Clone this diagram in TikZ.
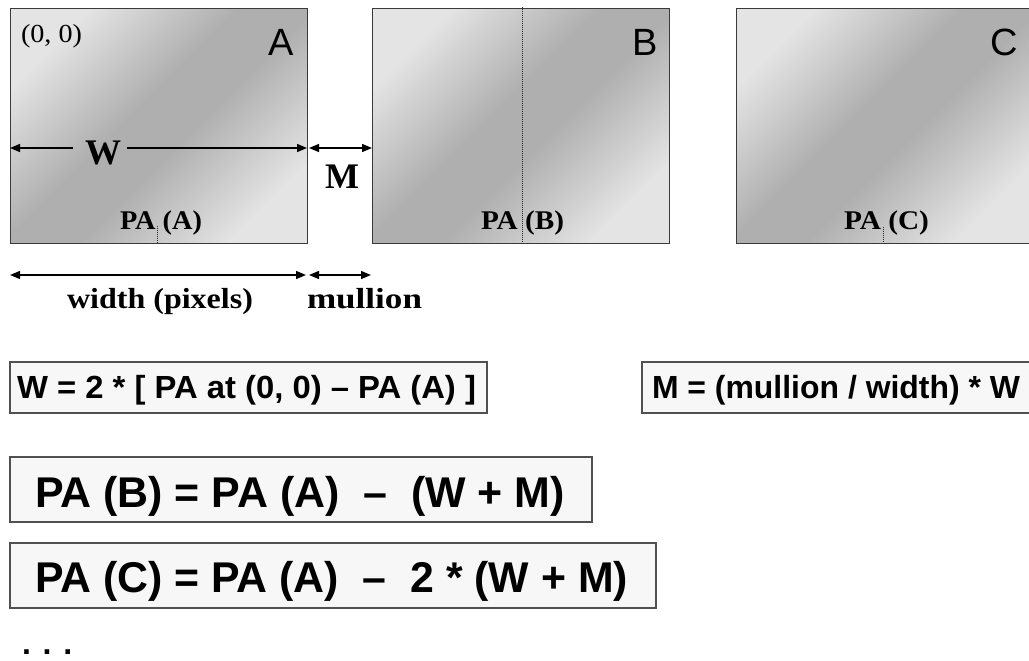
\documentclass[tikz,border=0pt]{standalone}
\usepackage{fontspec}
\usepackage{graphicx}
\setmainfont{Liberation Serif}
\newfontfamily\arialf{Liberation Sans}
\usetikzlibrary{arrows.meta}
\definecolor{panL}{HTML}{E4E4E4}
\definecolor{panD}{HTML}{AFAFAF}
\definecolor{boxF}{HTML}{F7F7F7}
\definecolor{boxB}{HTML}{505050}
\definecolor{panB}{HTML}{3A3A3A}
\pgfdeclarehorizontalshading{panshade}{100bp}{color(0bp)=(panL); color(25bp)=(panL); color(45bp)=(panD); color(55bp)=(panD); color(75bp)=(panL); color(100bp)=(panL)}
\newcommand{\mysfr}[1]{\arialf\fontsize{#1}{#1}\selectfont}
\newcommand{\mysfb}[1]{\arialf\bfseries\fontsize{#1}{#1}\selectfont}
\newcommand{\myser}[1]{\rmfamily\fontsize{#1}{#1}\selectfont}
\newcommand{\myseb}[1]{\rmfamily\bfseries\fontsize{#1}{#1}\selectfont}
\newcommand{\fitw}[2]{\resizebox{#1pt}{\height}{#2}}
\begin{document}
\begin{tikzpicture}[x=1pt,y=-1pt,
  panel/.style={draw=panB, line width=1pt, shade, shading=panshade,
    shading angle=-45, minimum width=297pt,
    minimum height=234pt, anchor=north west, inner sep=0pt, outer sep=0pt},
  fbox/.style={draw=boxB, line width=1.6pt, fill=boxF, anchor=north west,
    inner sep=0pt, outer sep=0pt},
  dim/.style={line width=1.3pt,
    {Triangle[length=10pt,width=8pt]}-{Triangle[length=10pt,width=8pt]}},
  dimend/.style={line width=1.3pt, -{Triangle[length=10pt,width=8pt]}},
  dotl/.style={line width=0.8pt, dash pattern=on 0.8pt off 1.2pt, draw=black!85},
  txt/.style={inner sep=0pt, outer sep=0pt, anchor=base},
]
\useasboundingbox (0,0) rectangle (1029,661);
\clip (0,0) rectangle (1029,661);

% panels
\node[panel] (pA) at (10,9) {};
\node[panel] (pB) at (372,9) {};
\node[panel] (pC) at (736,9) {};

% panel letters
\node[txt] (lA) at (281,56) {\mysfr{38}A};
\node[txt] (lB) at (645,56) {\mysfr{38}B};
\node[txt] (lC) at (1004,56) {\mysfr{38}C};
\node[txt, anchor=base west] (orig) at (21,43) {\myser{26}\fitw{61}{(0, 0)}};

% dotted centre marks
\coordinate (dA1) at (157,226);
\coordinate (dA2) at (157,243);
\coordinate (dB1) at (522,7);
\coordinate (dB2) at (522,243);
\coordinate (dC1) at (883,227);
\coordinate (dC2) at (883,243);
\draw[dotl] (dA1) -- (dA2);
\draw[dotl] (dB1) -- (dB2);
\draw[dotl] (dC1) -- (dC2);

% PA labels
\node[txt, anchor=base west] (paA) at (120,229) {\myseb{27}\fitw{82}{PA (A)}};
\node[txt, anchor=base west] (paB) at (481,229) {\myseb{27}\fitw{83}{PA (B)}};
\node[txt, anchor=base west] (paC) at (844,229) {\myseb{27}\fitw{85}{PA (C)}};

% W and M
\node[txt] (Wt) at (103,164) {\myseb{36}W};
\node[txt] (Mt) at (342,188) {\myseb{36}M};
\coordinate (wL) at (10,148);
\coordinate (wg1) at (73,148);
\coordinate (wg2) at (127,148);
\coordinate (wR) at (307,148);
\draw[dimend] (wg1) -- (wL);
\draw[dimend] (wg2) -- (wR);
\coordinate (mL) at (309,148);
\coordinate (mR) at (372,148);
\draw[dim] (mL) -- (mR);

% width / mullion dimension
\coordinate (bw1) at (10,275);
\coordinate (bw2) at (306,275);
\coordinate (bm1) at (309,275);
\coordinate (bm2) at (371,275);
\draw[dim] (bw1) -- (bw2);
\draw[dim] (bm1) -- (bm2);
\node[txt, anchor=base west] (wt) at (67,308) {\myseb{29}\fitw{186}{width (pixels)}};
\node[txt, anchor=base west] (mt) at (307,308) {\myseb{29}\fitw{115}{mullion}};

% formula boxes
\node[fbox, minimum width=477pt, minimum height=51pt] (b1) at (10,362) {};
\node[fbox, minimum width=400pt, minimum height=51pt] (b2) at (642,362) {};
\node[fbox, minimum width=582pt, minimum height=65pt] (b3) at (10,457) {};
\node[fbox, minimum width=646pt, minimum height=65pt] (b4) at (10,543) {};

\node[txt, anchor=base west] (t1) at (17,398) {\mysfb{32}\fitw{459}{W = 2 * [ PA at (0, 0) – PA (A) ]}};
\node[txt, anchor=base west] (t2) at (652,398) {\mysfb{32}\fitw{368}{M = (mullion / width) * W}};
\node[txt, anchor=base west] (t3) at (35,507) {\mysfb{43}\fitw{530}{PA (B) = PA (A)\ \ –\ \ (W + M)}};
\node[txt, anchor=base west] (t4) at (35,592) {\mysfb{43}\fitw{593}{PA (C) = PA (A)\ \ –\ \ 2 * (W + M)}};
\node[txt, anchor=base west] (dots) at (22,654) {\mysfb{32}. . .};
\end{tikzpicture}
\end{document}
